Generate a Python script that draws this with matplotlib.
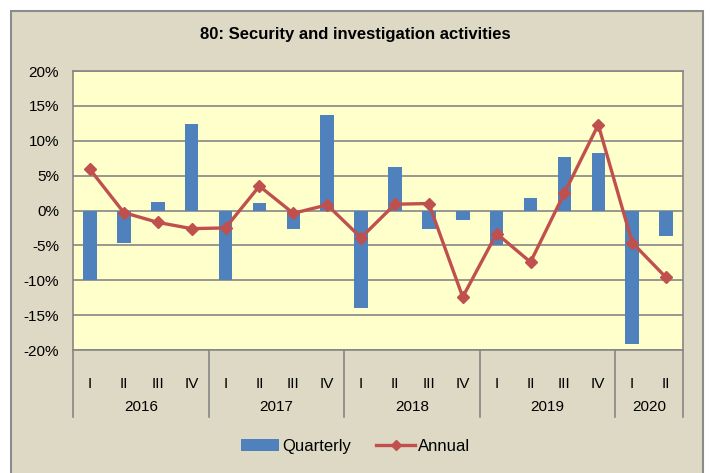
import matplotlib.pyplot as plt
import matplotlib.transforms as mtransforms
from matplotlib.patches import Rectangle
from matplotlib.lines import Line2D
from matplotlib.patches import Patch

plt.rcParams["font.family"] = ["Liberation Sans Narrow", "Liberation Sans", "DejaVu Sans"]

years = ["2016", "2017", "2018", "2019", "2020"]
quarters_per_year = [4, 4, 4, 4, 2]
quarter_names = ["I", "II", "III", "IV"]

quarterly = [-10.0, -4.6, 1.2, 12.4,
             -10.0, 1.1, -2.6, 13.7,
             -14.0, 6.3, -2.7, -1.3,
             -5.0, 1.8, 7.6, 8.3,
             -19.1, -3.6]
annual = [5.9, -0.3, -1.7, -2.6,
          -2.5, 3.5, -0.4, 0.8,
          -3.9, 0.9, 1.0, -12.4,
          -3.3, -7.4, 2.5, 12.3,
          -4.6, -9.6]

W, H = 711, 473
fig = plt.figure(figsize=(W / 100, H / 100), dpi=100, facecolor="white")
fig.patches.append(Rectangle((11 / W, -0.05), (703 - 11) / W, 1.05 - 11 / H,
                             transform=fig.transFigure, facecolor="#DDD9C4",
                             edgecolor="#8C8C8C", linewidth=1.5, zorder=-1))

ax = fig.add_axes([73 / W, 1 - 350 / H, 610 / W, 279 / H])
ax.set_facecolor("#FFFFCC")

x = list(range(len(quarterly)))
ax.bar(x, quarterly, width=0.4, color="#4F81BD", zorder=2)
ax.plot(x, annual, color="#C0504D", linewidth=2.4, marker="D", markersize=6,
        zorder=3)

ax.set_xlim(-0.5, len(x) - 0.5)
ax.set_ylim(-20, 20)
ax.set_yticks(range(-20, 21, 5))
ax.set_yticklabels([f"{v}%" for v in range(-20, 21, 5)], fontsize=11)
ax.yaxis.grid(True, color="#868686", linewidth=1.2, zorder=1)
ax.set_axisbelow(True)
ax.tick_params(axis="y", length=0, pad=10)
for s in ax.spines.values():
    s.set_color("#868686")
    s.set_linewidth(1.2)

# multi-level category axis
ax.set_xticks([])
trans = mtransforms.blended_transform_factory(ax.transData, ax.transAxes)
pos = -0.5
sep_bottom = -(417 - 350) / 279
ax.plot([pos, pos], [0, sep_bottom], transform=trans, color="#868686",
        linewidth=1.2, clip_on=False)
i = 0
for year, n in zip(years, quarters_per_year):
    for q in range(n):
        ax.text(i, -(384 - 350) / 279, quarter_names[q], transform=trans,
                ha="center", va="center", fontsize=11)
        i += 1
    ax.text(pos + n / 2, -(407 - 350) / 279, year, transform=trans,
            ha="center", va="center", fontsize=11)
    pos += n
    ax.plot([pos, pos], [0, sep_bottom], transform=trans, color="#868686",
            linewidth=1.2, clip_on=False)

fig.text(0.5, 1 - 35 / H, "80: Security and investigation activities",
         ha="center", va="center", fontsize=12, fontweight="bold")

handles = [Patch(facecolor="#4F81BD"),
           Line2D([], [], color="#C0504D", linewidth=2.4, marker="D", markersize=5)]
fig.legend(handles, ["Quarterly", "Annual"], loc="center",
           bbox_to_anchor=(0.5, 1 - 446 / H), ncol=2, frameon=False,
           fontsize=12, handlelength=2.3, handletextpad=0.2, columnspacing=1.5)

fig.savefig("out.png", dpi=100, facecolor="white")
